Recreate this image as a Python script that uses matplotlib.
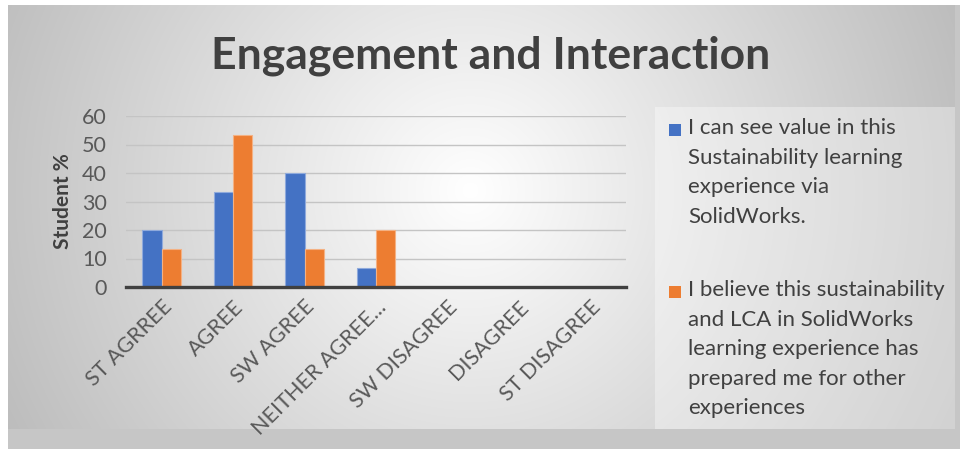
import numpy as np
import matplotlib
matplotlib.use('Agg')
import matplotlib.pyplot as plt
from matplotlib.patches import Rectangle

plt.rcParams['font.family'] = ['Lato', 'DejaVu Sans']

# data
categories = ['ST AGRREE', 'AGREE', 'SW AGREE', 'NEITHER AGREE...',
              'SW DISAGREE', 'DISAGREE', 'ST DISAGREE']
value_seen = [20, 33.33, 40, 6.67, 0, 0, 0]
prepared = [13.33, 53.33, 13.33, 20, 0, 0, 0]
series_labels = [
    'I can see value in this\nSustainability learning\nexperience via\nSolidWorks.',
    'I believe this sustainability\nand LCA in SolidWorks\nlearning experience has\nprepared me for other\nexperiences',
]
colors = ['#4472C4', '#ED7D31']
edge_colors = ['#8FAADC', '#F4B183']

W, H = 960, 449
fig = plt.figure(figsize=(W / 100, H / 100), dpi=100)
fig.patch.set_facecolor('white')

def fx(px):
    return px / W

def fy(py):
    return 1 - py / H

# shadow + gradient panel
fig.patches.append(Rectangle((fx(8), 0), fx(952), fy(5), transform=fig.transFigure,
                             facecolor='#c6c6c6', edgecolor='none', zorder=-2))
px0, py0, px1, py1 = 8, 5, 955, 429
bg = fig.add_axes([fx(px0), fy(py1), fx(px1 - px0), (py1 - py0) / H], zorder=-1)
xx, yy = np.meshgrid(np.arange(px0, px1), np.arange(py0, py1))
d = np.hypot(xx - 470, yy - 190)
val = 1 - 0.24 * np.clip(d / 480, 0, 1.2)
bg.imshow(np.dstack([val] * 3), aspect='auto', extent=[0, 1, 0, 1])
bg.axis('off')

# legend panel
fig.patches.append(Rectangle((fx(655), fy(429)), fx(300), 322 / H, transform=fig.transFigure,
                             facecolor='white', alpha=0.35, edgecolor='none', zorder=0))

ax = fig.add_axes([fx(126), fy(287), fx(500), 171 / H], zorder=1)
ax.patch.set_visible(False)

x = np.arange(len(categories))
w = 0.27
ax.bar(x - w / 2, value_seen, w, color=colors[0], edgecolor=edge_colors[0], linewidth=0.8, zorder=3)
ax.bar(x + w / 2, prepared, w, color=colors[1], edgecolor=edge_colors[1], linewidth=0.8, zorder=3)

ax.set_xlim(-0.5, len(categories) - 0.5)
ax.set_ylim(0, 60)
ax.set_yticks(range(0, 61, 10))
ax.yaxis.grid(True, color='#c4c4c4', linewidth=1.0, zorder=0)
ax.set_axisbelow(True)
for s in ['top', 'right', 'left']:
    ax.spines[s].set_visible(False)
ax.spines['bottom'].set_color('#404040')
ax.spines['bottom'].set_linewidth(2.4)
ax.spines['bottom'].set_zorder(4)
ax.tick_params(axis='both', length=0, labelcolor='#595959')
ax.tick_params(axis='y', pad=14, labelsize=15.5)
ax.tick_params(axis='x', pad=7, labelsize=15.5)
ax.set_xticks(x)
ax.set_xticklabels(categories, rotation=45, ha='right', rotation_mode='anchor')
ax.set_ylabel('Student %', fontsize=15, fontweight='bold', color='#404040', labelpad=6)

fig.text(fx(491), fy(56), 'Engagement and Interaction', ha='center', va='center',
         fontsize=32, fontweight='bold', color='#404040')

# legend entries
tops = [130, 292]
for lab, c, t in zip(series_labels, colors, tops):
    fig.patches.append(Rectangle((fx(669), fy(t + 6)), fx(12), 12 / H, transform=fig.transFigure,
                                 facecolor=c, edgecolor='none', zorder=2))
    fig.text(fx(688), fy(t - 12), lab, ha='left', va='top', fontsize=16,
             color='#404040', linespacing=1.6, zorder=3)

fig.savefig('out.png', dpi=100)
